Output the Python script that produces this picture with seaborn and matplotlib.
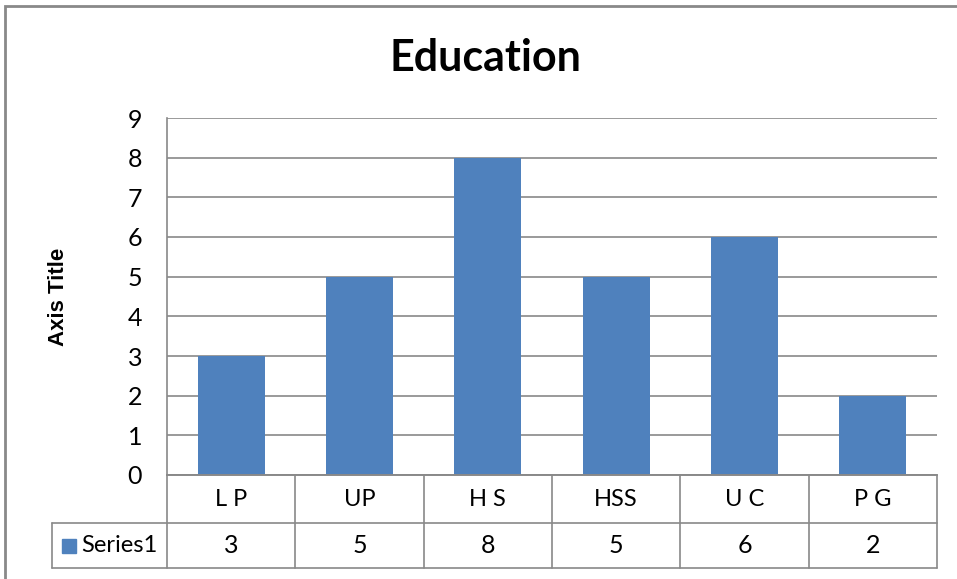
import pandas as pd
import seaborn as sns
import matplotlib.pyplot as plt
from matplotlib.patches import Rectangle

# datos
categorias = ['L P', 'UP', 'H S', 'HSS', 'U C', 'P G']
valores = [3, 5, 8, 5, 6, 2]
serie = 'Series1'
titulo = 'Education'
eje_y = 'Axis Title'

azul = '#4F81BD'
gris = '#898989'

df = pd.DataFrame({'cat': categorias, 'val': valores})

sns.set_theme(style='white')
plt.rcParams['font.family'] = ['Lato', 'DejaVu Sans']
plt.rcParams['text.color'] = 'black'
plt.rcParams['ytick.color'] = 'black'

fig = plt.figure(figsize=(9.57, 5.79), dpi=100)
ax = fig.add_axes([167/957, 1 - 475/579, 770/957, 357/579])

sns.barplot(data=df, x='cat', y='val', color=azul, width=0.52, saturation=1,
            linewidth=0, ax=ax)

ax.set_ylim(0, 9)
ax.set_xlim(-0.5, len(categorias) - 0.5)
ax.set_yticks(range(0, 10))
ax.yaxis.grid(True, color=gris, linewidth=1.2)
ax.set_axisbelow(True)
ax.tick_params(axis='y', labelsize=18, length=0, pad=18)
ax.set_xticks([])
ax.set_xlabel('')
ax.set_ylabel('')
for s in ['top', 'right']:
    ax.spines[s].set_visible(False)
for s in ['left', 'bottom']:
    ax.spines[s].set_color(gris)
    ax.spines[s].set_linewidth(1.2)

# titulo y eje
fig.text(485/957, 1 - 58/579, titulo, ha='center', va='center', fontsize=31, fontweight='bold')
fig.text(58/957, 1 - 297/579, eje_y, ha='center', va='center', rotation=90,
         fontsize=16, fontweight='bold', family=['Liberation Sans', 'DejaVu Sans'])

# tabla de datos
n = len(categorias)
r1 = -48/357
r2 = -93/357
xl = -115/770
kw = dict(transform=ax.transAxes, clip_on=False, color=gris, linewidth=1.2)
for i in range(n + 1):
    ax.plot([i/n, i/n], [0, r2], **kw)
ax.plot([0, 1], [0, 0], **kw)
ax.plot([xl, 1], [r1, r1], **kw)
ax.plot([xl, 1], [r2, r2], **kw)
ax.plot([xl, xl], [r1, r2], **kw)

for i, (c, v) in enumerate(zip(categorias, valores)):
    ax.text((i + 0.5)/n, r1/2, c, transform=ax.transAxes, ha='center', va='center', fontsize=17)
    ax.text((i + 0.5)/n, (r1 + r2)/2, str(v), transform=ax.transAxes, ha='center', va='center', fontsize=18)

ax.add_patch(Rectangle((-105/770, (r1 + r2)/2 - 7/357), 14/770, 14/357, transform=ax.transAxes,
                       clip_on=False, color=azul))
ax.text(-86/770, (r1 + r2)/2, serie, transform=ax.transAxes, ha='left', va='center', fontsize=17)

# borde exterior
fig.patches.append(Rectangle((5/957, -0.1), 1.2, 1 - 6/579 + 0.1, transform=fig.transFigure,
                             fill=False, edgecolor=gris, linewidth=2))

fig.savefig('out.png', dpi=100)
